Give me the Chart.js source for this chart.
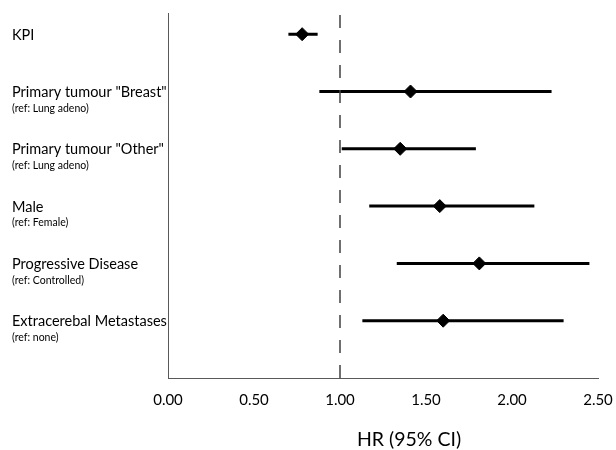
<!DOCTYPE html>
<html>
<head>
<meta charset="utf-8">
<script src="https://cdn.jsdelivr.net/npm/chart.js@4/dist/chart.umd.min.js"></script>
<style>
  html, body { margin: 0; padding: 0; background: #fff; overflow: hidden; }
  #wrap { width: 616px; height: 450px; }
</style>
</head>
<body>
<div id="wrap"><canvas id="forest"></canvas></div>
<script>
// row labels (top to bottom) and the reference category under each
const labels = ['KPI', 'Primary tumour "Breast"', 'Primary tumour "Other"', 'Male', 'Progressive Disease', 'Extracerebal Metastases'];
const refs = ['', '(ref: Lung adeno)', '(ref: Lung adeno)', '(ref: Female)', '(ref: Controlled)', '(ref: none)'];
const rows = [6, 5, 4, 3, 2, 1];

// hazard ratios and 95% CI bounds
const hr = [0.78, 1.41, 1.35, 1.58, 1.81, 1.60];
const ciLow = [0.70, 0.88, 1.01, 1.17, 1.33, 1.13];
const ciHigh = [0.87, 2.23, 1.79, 2.13, 2.45, 2.30];

const xTicks = [0, 0.5, 1, 1.5, 2, 2.5];
const refLine = 1;

// CI whiskers as one line with gaps between rows
const ciPoints = [];
rows.forEach((r, i) => {
  ciPoints.push({ x: ciLow[i], y: r });
  ciPoints.push({ x: ciHigh[i], y: r });
  ciPoints.push({ x: null, y: null });
});

const labelPlugin = {
  id: 'rowLabels',
  afterDraw(chart) {
    const ctx = chart.ctx;
    const y = chart.scales.y;
    ctx.save();
    ctx.fillStyle = '#000';
    ctx.textAlign = 'left';
    ctx.textBaseline = 'middle';
    rows.forEach((r, i) => {
      const py = y.getPixelForValue(r);
      ctx.font = '14.5px Lato, "Open Sans", sans-serif';
      ctx.fillText(labels[i], 12, py + 1);
      if (refs[i]) {
        ctx.font = '10.5px Lato, "Open Sans", sans-serif';
        ctx.fillText(refs[i], 12, py + 17);
      }
    });
    // axis title sits a bit right of centre in the original
    ctx.font = '19.5px Lato, "Open Sans", sans-serif';
    ctx.textAlign = 'center';
    ctx.fillText('HR (95% CI)', 409, 440);
    ctx.restore();
  }
};

new Chart(document.getElementById('forest'), {
  type: 'scatter',
  data: {
    datasets: [
      {
        label: 'ref',
        data: [{ x: refLine, y: 0 }, { x: refLine, y: 6.37 }],
        showLine: true,
        borderColor: '#404040',
        borderWidth: 1.5,
        borderDash: [13, 12],
        pointRadius: 0
      },
      {
        label: 'CI',
        data: ciPoints,
        showLine: true,
        spanGaps: false,
        borderColor: '#000',
        borderWidth: 3,
        pointRadius: 0
      },
      {
        label: 'HR',
        data: rows.map((r, i) => ({ x: hr[i], y: r })),
        pointStyle: 'rectRot',
        pointRadius: 6.5,
        backgroundColor: '#000',
        borderColor: '#000',
        borderWidth: 1
      }
    ]
  },
  options: {
    responsive: true,
    maintainAspectRatio: false,
    animation: false,
    layout: { padding: { top: 13, right: 18, left: 0, bottom: 0 } },
    plugins: { legend: { display: false }, tooltip: { enabled: false } },
    scales: {
      x: {
        type: 'linear',
        min: 0,
        max: 2.5,
        afterBuildTicks: s => { s.ticks = xTicks.map(v => ({ value: v })); },
        afterFit: s => { s.height = 72; s.paddingLeft = 0; s.paddingRight = 0; },
        grid: { display: false, drawTicks: false },
        border: { display: true, color: '#595959', width: 1 },
        ticks: {
          padding: 13,
          color: '#000',
          font: { size: 15, family: 'Lato, "Open Sans", sans-serif' },
          callback: v => Number(v).toFixed(2)
        }
      },
      y: {
        type: 'linear',
        min: 0,
        max: 6.37,
        afterFit: s => { s.width = 168; },
        grid: { display: false, drawTicks: false },
        border: { display: true, color: '#595959', width: 1 },
        ticks: { display: false }
      }
    }
  },
  plugins: [labelPlugin]
});
</script>
</body>
</html>
